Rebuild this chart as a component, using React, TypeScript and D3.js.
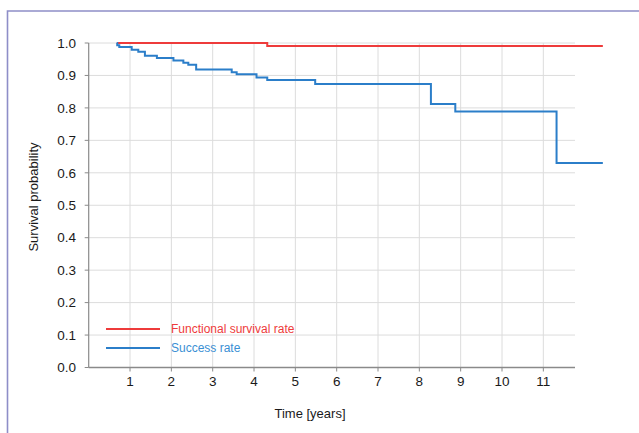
import React from "react";
import * as d3 from "d3";

const xTicks = [1, 2, 3, 4, 5, 6, 7, 8, 9, 10, 11];
const yTicks = [0, 0.1, 0.2, 0.3, 0.4, 0.5, 0.6, 0.7, 0.8, 0.9, 1.0];

const successTimes = [0.68, 0.69, 0.74, 1.04, 1.2, 1.36, 1.65, 2.05, 2.29, 2.41, 2.6, 3.46, 3.58, 4.06, 4.32, 5.48, 8.28, 8.87, 11.32, 12.44];
const successValues = [1.0, 0.993, 0.988, 0.979, 0.973, 0.961, 0.954, 0.946, 0.939, 0.933, 0.918, 0.91, 0.904, 0.894, 0.886, 0.874, 0.812, 0.789, 0.63, 0.63];

const functionalTimes = [0.68, 4.32, 12.44];
const functionalValues = [1.0, 0.991, 0.991];

const seriesNames = ["Functional survival rate", "Success rate"];
const seriesColors = ["#ee3b3b", "#2b7ec9"];
const legendTextColors = ["#ee3b3b", "#3a8fd4"];

export default function App() {
  const W = 639, H = 433;
  const x = d3.scaleLinear().domain([0, 12]).range([88.7, 88.7 + 12 * 41.33]);
  const y = d3.scaleLinear().domain([0, 1]).range([367.5, 43]);
  const xEnd = 575;
  const font = "'Liberation Sans', Arial, Helvetica, sans-serif";

  const line = d3
    .line<[number, number]>()
    .x((d) => x(d[0]))
    .y((d) => y(d[1]))
    .curve(d3.curveStepAfter);

  const funcPts: [number, number][] = functionalTimes.map((t, i) => [t, functionalValues[i]]);
  const succPts: [number, number][] = successTimes.map((t, i) => [t, successValues[i]]);

  return (
    <svg
      width={W}
      height={H}
      style={{ position: "absolute", left: 0, top: 0, display: "block", background: "#fff" }}
      fontFamily={font}
    >
      <rect x={0} y={0} width={W} height={H} fill="#fff" />
      {/* frame */}
      <path d={`M7.5,440 L7.5,11 L650,11`} fill="none" stroke="#8e8ec8" strokeWidth={1.6} />

      {/* grid */}
      {yTicks.filter((v) => v > 0).map((v) => (
        <line key={"gy" + v} x1={x(0)} x2={xEnd} y1={y(v)} y2={y(v)} stroke="#dcdcdc" strokeWidth={1} />
      ))}
      {xTicks.map((v) => (
        <line key={"gx" + v} x1={x(v)} x2={x(v)} y1={y(1)} y2={y(0)} stroke="#dcdcdc" strokeWidth={1} />
      ))}

      {/* axes */}
      <line x1={x(0)} x2={x(0)} y1={y(1)} y2={y(0)} stroke="#8a8a8a" strokeWidth={1.2} />
      <line x1={x(0)} x2={xEnd} y1={y(0)} y2={y(0)} stroke="#8a8a8a" strokeWidth={1.5} />

      {yTicks.map((v) => (
        <g key={"yt" + v}>
          <line x1={x(0) - 4} x2={x(0)} y1={y(v)} y2={y(v)} stroke="#8a8a8a" strokeWidth={1} />
          <text x={76} y={y(v)} dy="0.35em" textAnchor="end" fontSize={13.5} fill="#1a1a1a">
            {v.toFixed(1)}
          </text>
        </g>
      ))}
      {xTicks.map((v) => (
        <g key={"xt" + v}>
          <line x1={x(v)} x2={x(v)} y1={y(0)} y2={y(0) + 4} stroke="#8a8a8a" strokeWidth={1} />
          <text x={x(v)} y={386} textAnchor="middle" fontSize={13.5} fill="#1a1a1a">
            {v}
          </text>
        </g>
      ))}

      {/* axis titles */}
      <text x={310} y={418} textAnchor="middle" fontSize={13} fill="#1a1a1a">
        Time [years]
      </text>
      <text
        transform={`translate(38,197) rotate(-90)`}
        textAnchor="middle"
        fontSize={13}
        fill="#1a1a1a"
      >
        Survival probability
      </text>

      {/* series */}
      <path d={line(funcPts) || ""} fill="none" stroke={seriesColors[0]} strokeWidth={2} />
      <path d={line(succPts) || ""} fill="none" stroke={seriesColors[1]} strokeWidth={2} />

      {/* legend */}
      {seriesNames.map((name, i) => (
        <g key={name}>
          <line x1={106} x2={160} y1={329 + i * 19} y2={329 + i * 19} stroke={seriesColors[i]} strokeWidth={2} />
          <text x={171} y={329 + i * 19} dy="0.35em" fontSize={12} fill={legendTextColors[i]}>
            {name}
          </text>
        </g>
      ))}
    </svg>
  );
}
